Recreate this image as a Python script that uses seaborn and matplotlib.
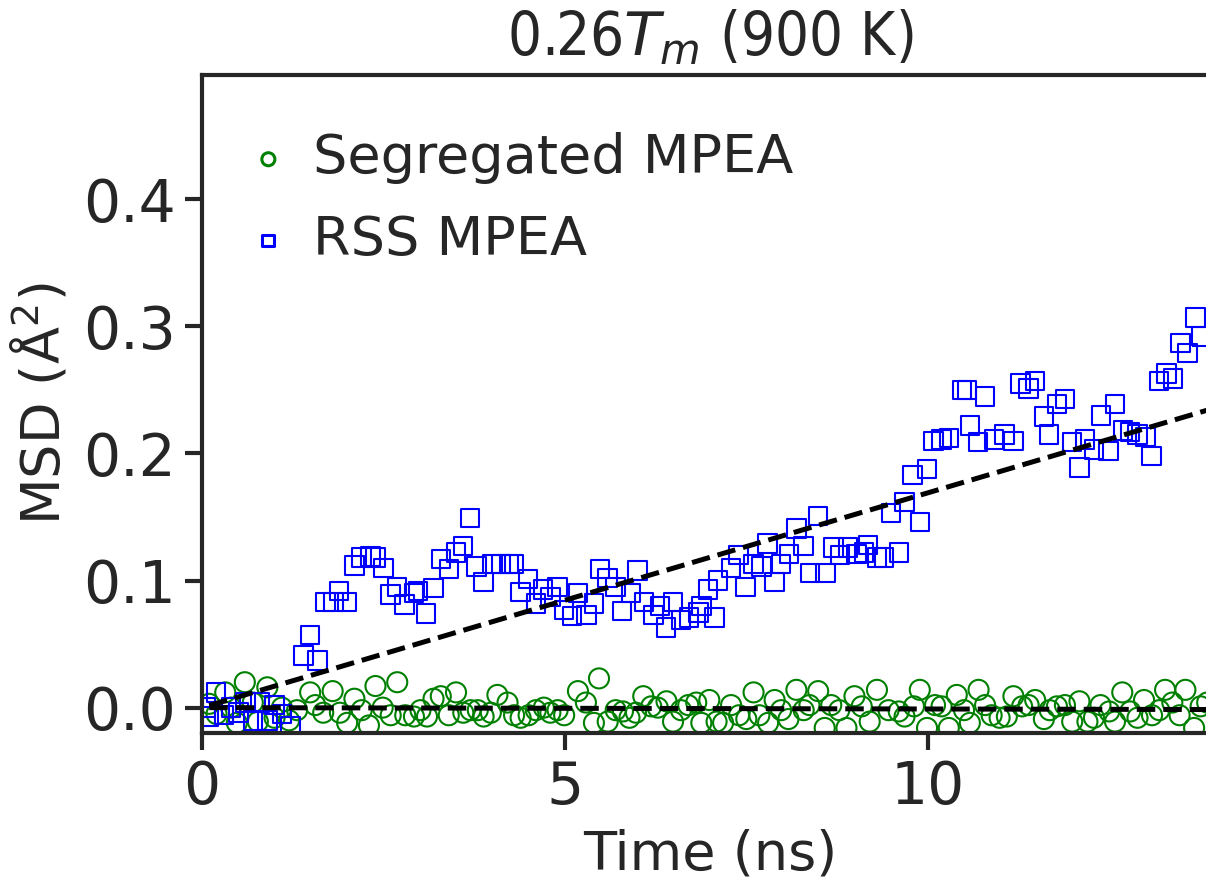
import matplotlib
matplotlib.use("Agg")
import matplotlib.pyplot as plt
import seaborn as sns
import pandas as pd

# ---- data ----
rss_time = [0.05, 0.1, 0.19, 0.3, 0.4, 0.5, 0.6, 0.7, 0.8, 0.9, 1.0, 1.1, 1.22, 1.4, 1.49, 1.59,
            1.7, 1.81, 1.89, 2.0, 2.1, 2.2, 2.32, 2.39, 2.5, 2.6, 2.69, 2.79, 2.92, 2.98, 3.09,
            3.19, 3.29, 3.4, 3.5, 3.6, 3.69, 3.78, 3.88, 4.0, 4.12, 4.23, 4.3, 4.39, 4.49, 4.6,
            4.7, 4.8, 4.9, 4.99, 5.1, 5.18, 5.3, 5.4, 5.48, 5.59, 5.7, 5.79, 5.91, 6.0, 6.09,
            6.22, 6.31, 6.39, 6.49, 6.6, 6.71, 6.84, 6.88, 6.97, 7.06, 7.11, 7.29, 7.39, 7.49,
            7.6, 7.71, 7.79, 7.89, 7.98, 8.09, 8.19, 8.29, 8.38, 8.49, 8.59, 8.7, 8.79, 8.9,
            9.02, 9.12, 9.18, 9.3, 9.4, 9.49, 9.6, 9.68, 9.79, 9.89, 9.99, 10.08, 10.19, 10.29,
            10.47, 10.54, 10.58, 10.69, 10.79, 10.91, 11.06, 11.18, 11.28, 11.39, 11.48, 11.6,
            11.67, 11.78, 11.89, 11.99, 12.09, 12.17, 12.29, 12.39, 12.49, 12.58, 12.69, 12.79,
            12.89, 13.0, 13.08, 13.19, 13.29, 13.38, 13.48, 13.58, 13.69, 13.77]
rss_msd = [0.0, -0.007, 0.012, -0.006, 0.0, -0.004, 0.004, -0.01, 0.004, -0.01, 0.002, -0.005,
           -0.015, 0.041, 0.057, 0.037, 0.083, 0.083, 0.092, 0.083, 0.112, 0.118, 0.119, 0.118,
           0.110, 0.089, 0.095, 0.081, 0.090, 0.092, 0.074, 0.094, 0.117, 0.109, 0.122, 0.127,
           0.149, 0.111, 0.099, 0.113, 0.113, 0.113, 0.113, 0.091, 0.101, 0.082, 0.093, 0.087,
           0.095, 0.077, 0.072, 0.090, 0.073, 0.082, 0.109, 0.102, 0.095, 0.076, 0.090, 0.108,
           0.083, 0.073, 0.080, 0.063, 0.083, 0.069, 0.071, 0.075, 0.080, 0.093, 0.071, 0.100,
           0.110, 0.120, 0.095, 0.113, 0.111, 0.129, 0.099, 0.113, 0.121, 0.141, 0.127, 0.106,
           0.151, 0.106, 0.126, 0.120, 0.126, 0.121, 0.122, 0.128, 0.118, 0.118, 0.153, 0.122,
           0.162, 0.183, 0.146, 0.188, 0.210, 0.211, 0.212, 0.250, 0.250, 0.222, 0.209, 0.245,
           0.211, 0.215, 0.210, 0.255, 0.251, 0.257, 0.229, 0.215, 0.239, 0.243, 0.209, 0.189,
           0.211, 0.203, 0.230, 0.202, 0.239, 0.218, 0.217, 0.215, 0.213, 0.198, 0.257, 0.263,
           0.259, 0.287, 0.279, 0.307, 0.292]

seg_time = [0.1, 0.2, 0.32, 0.4, 0.48, 0.59, 0.7, 0.77, 0.9, 1.0, 1.1, 1.2, 1.31, 1.49, 1.56,
            1.67, 1.8, 1.9, 2.0, 2.1, 2.2, 2.3, 2.39, 2.49, 2.6, 2.69, 2.8, 2.92, 3.01, 3.1,
            3.19, 3.29, 3.4, 3.5, 3.6, 3.7, 3.8, 3.88, 3.98, 4.07, 4.21, 4.3, 4.39, 4.5, 4.6,
            4.71, 4.8, 4.9, 4.99, 5.18, 5.29, 5.4, 5.47, 5.59, 5.7, 5.8, 5.89, 5.98, 6.08,
            6.19, 6.28, 6.4, 6.49, 6.6, 6.7, 6.81, 6.88, 6.99, 7.09, 7.18, 7.29, 7.4, 7.5,
            7.6, 7.68, 7.8, 7.89, 7.98, 8.08, 8.19, 8.29, 8.37, 8.49, 8.58, 8.67, 8.78, 8.88,
            8.99, 9.09, 9.2, 9.3, 9.46, 9.6, 9.68, 9.81, 9.89, 9.99, 10.1, 10.19, 10.29, 10.4,
            10.5, 10.58, 10.7, 10.79, 10.88, 10.99, 11.09, 11.18, 11.3, 11.39, 11.48, 11.6,
            11.68, 11.78, 11.89, 11.99, 12.09, 12.2, 12.29, 12.38, 12.5, 12.58, 12.68, 12.79,
            12.89, 12.98, 13.09, 13.19, 13.27, 13.37, 13.47, 13.55, 13.67, 13.76, 13.85]
seg_msd = [0.003, -0.005, 0.012, 0.0, -0.012, 0.020, 0.004, -0.011, 0.016, -0.008, 0.0,
           -0.010, -0.002, 0.012, 0.002, -0.004, 0.013, -0.004, -0.012, 0.007, -0.002, -0.014,
           0.017, 0.0, -0.006, 0.020, -0.006, -0.007, -0.002, -0.007, 0.007, 0.009, -0.006,
           0.012, -0.004, -0.002, -0.002, -0.007, -0.004, 0.010, 0.004, -0.006, -0.008,
           -0.006, -0.002, 0.0, -0.004, -0.002, -0.006, 0.013, 0.004, -0.012, 0.023, -0.011,
           -0.002, -0.003, -0.008, -0.004, 0.009, 0.001, 0.0, 0.005, -0.011, -0.002, 0.002,
           0.004, -0.012, 0.006, -0.011, -0.012, 0.002, -0.006, -0.009, 0.012, -0.006, -0.012,
           0.006, -0.002, -0.009, 0.014, -0.002, 0.002, 0.013, -0.016, 0.002, -0.002, -0.016,
           0.009, 0.001, -0.011, 0.014, -0.002, -0.003, -0.007, 0.001, 0.014, -0.016, 0.002,
           0.001, -0.016, 0.010, -0.002, -0.012, 0.014, 0.002, -0.006, -0.008, -0.007, 0.009,
           0.001, 0.002, 0.006, -0.009, -0.002, 0.001, 0.002, -0.011, 0.005, -0.011, -0.008,
           0.002, -0.003, -0.011, 0.012, -0.003, -0.008, 0.006, -0.006, -0.002, 0.014, 0.004,
           -0.006, 0.014, -0.016, 0.001, 0.004]

fit_time = [0.1, 14.0]
rss_fit = [0.0017, 0.2366]
seg_fit = [0.0, -0.0015]

labels = ["Segregated MPEA", "RSS MPEA"]
title = "0.26$T_m$ (900 K)"
xticks = [0, 5, 10]
yticks = [0.0, 0.1, 0.2, 0.3, 0.4]

# ---- plotting ----
sns.set_theme(style="ticks")
plt.rcParams["font.family"] = ["DejaVu Sans"]
plt.rcParams.update({
    "axes.linewidth": 1.5,
    "xtick.major.size": 6, "ytick.major.size": 6,
    "xtick.major.width": 1.5, "ytick.major.width": 1.5,
    "xtick.labelsize": 21, "ytick.labelsize": 21,
    "text.color": ".15", "axes.labelcolor": ".15",
    "xtick.color": ".15", "ytick.color": ".15", "axes.edgecolor": ".15",
    "mathtext.fontset": "dejavusans",
})

fig = plt.figure(figsize=(6.03, 4.4), dpi=200)
ax = fig.add_axes([0.1675, 0.167, 0.8425, 0.748])

seg_df = pd.DataFrame({"t": seg_time, "msd": seg_msd})
rss_df = pd.DataFrame({"t": rss_time, "msd": rss_msd})

sns.scatterplot(data=seg_df, x="t", y="msd", ax=ax, marker="o", s=52,
                facecolor="none", edgecolor="green", linewidth=0.75,
                label=labels[0], zorder=2)
sns.scatterplot(data=rss_df, x="t", y="msd", ax=ax, marker="s", s=44,
                facecolor="none", edgecolor="blue", linewidth=0.75,
                label=labels[1], zorder=2)

sns.lineplot(x=fit_time, y=rss_fit, ax=ax, color="black", linestyle="--", linewidth=1.8,
             zorder=3, legend=False)
sns.lineplot(x=fit_time, y=seg_fit, ax=ax, color="black", linestyle="--", linewidth=1.8,
             zorder=3, legend=False)

ax.set_xlim(0, 14)
ax.set_ylim(-0.02, 0.498)
ax.set_xticks(xticks)
ax.set_xticklabels([str(v) for v in xticks])
ax.set_yticks(yticks)
ax.set_yticklabels([f"{v:.1f}" for v in yticks])
ax.set_xlabel("Time (ns)", fontsize=19.5, labelpad=4.5)
ax.set_ylabel("MSD (Å$^2$)", fontsize=19.5, labelpad=4.5)
ax.set_title(title, fontsize=21.5, pad=7, fontstretch="condensed")

leg = ax.legend(loc="upper left", bbox_to_anchor=(-0.004, 0.97), frameon=False,
                fontsize=19.5, markerscale=0.65, handlelength=1.2, handletextpad=0.22,
                borderaxespad=0.3, labelspacing=0.54)
for h in leg.legend_handles:
    h.set_linewidth(1.1)

fig.savefig("out.png", dpi=200)
